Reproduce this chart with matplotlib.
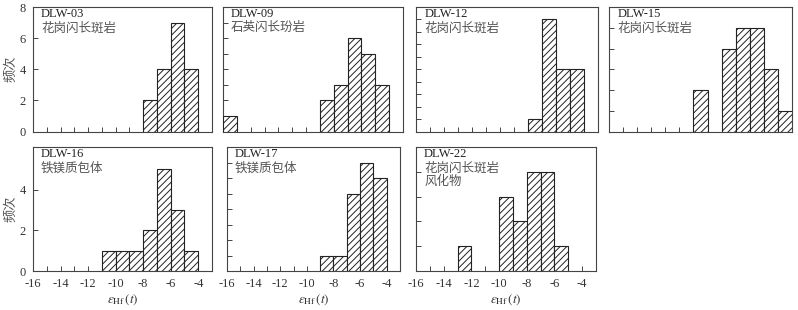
"""Zircon eHf(t) histograms for the DLW samples (7 panels)."""
import numpy as np
import matplotlib
matplotlib.use("Agg")
import matplotlib.pyplot as plt  # noqa: E402

plt.rcParams["font.family"] = ["Liberation Serif", "Noto Sans CJK SC"]
plt.rcParams["mathtext.fontset"] = "stix"
plt.rcParams["hatch.linewidth"] = 0.7

CJK = ["Noto Sans CJK SC", "DejaVu Sans"]
INK = "#333333"

# sample ids and rock names
SAMPLES = ["DLW-03", "DLW-09", "DLW-12", "DLW-15", "DLW-16", "DLW-17", "DLW-22"]
ROCKS = ["花岗闪长斑岩", "石英闪长玢岩", "花岗闪长斑岩", "花岗闪长斑岩",
         "铁镁质包体", "铁镁质包体", "花岗闪长斑岩\n风化物"]

# bin left edges (bin width 1) and counts per sample
EDGES_03 = [-8, -7, -6, -5]
COUNTS_03 = [2, 4, 7, 4]
EDGES_09 = [-16, -9, -8, -7, -6, -5]
COUNTS_09 = [1, 2, 3, 6, 5, 3]
EDGES_12 = [-8, -7, -6, -5]
COUNTS_12 = [1, 9, 5, 5]
EDGES_15 = [-10, -8, -7, -6, -5, -4]
COUNTS_15 = [2, 4, 5, 5, 3, 1]
EDGES_16 = [-11, -10, -9, -8, -7, -6, -5]
COUNTS_16 = [1, 1, 1, 2, 5, 3, 1]
EDGES_17 = [-9, -8, -7, -6, -5]
COUNTS_17 = [1, 1, 5, 7, 6]
EDGES_22 = [-13, -10, -9, -8, -7, -6]
COUNTS_22 = [1, 3, 2, 4, 4, 1]

EDGES = [EDGES_03, EDGES_09, EDGES_12, EDGES_15, EDGES_16, EDGES_17, EDGES_22]
COUNTS = [COUNTS_03, COUNTS_09, COUNTS_12, COUNTS_15, COUNTS_16, COUNTS_17, COUNTS_22]
YMAX = [8, 8, 10, 6, 6.1, 8, 5]
XTICKS = [-16, -14, -12, -10, -8, -6, -4]

W, H = 798, 310
# axes boxes in pixels: (left, right, top, bottom)
BOXES = [(33, 212, 7, 131.5), (223, 403, 7, 131.5), (416, 598, 7, 131.5),
         (609, 792, 7, 131.5),
         (33, 212, 147, 271), (227, 400, 147, 271), (416, 596, 147, 271)]

fig = plt.figure(figsize=(W / 100, H / 100), dpi=100)

for i, (l, r, t, b) in enumerate(BOXES):
    ax = fig.add_axes([l / W, 1 - b / H, (r - l) / W, (b - t) / H])
    ax.bar(EDGES[i], COUNTS[i], width=1, align="edge", facecolor="white",
           edgecolor="#222222", linewidth=0.8, hatch="/////", zorder=3)
    ax.set_xlim(-16, -3)
    ax.set_ylim(0, YMAX[i])
    for sp in ax.spines.values():
        sp.set_color("#444444")
        sp.set_linewidth(0.8)

    ax.set_xticks(np.arange(-16, -2, 1), minor=True)
    ax.set_xticks(XTICKS)
    ax.tick_params(axis="both", which="both", direction="in", length=3.5,
                   width=0.7, color="#444444", top=False, right=False,
                   labelsize=9, labelcolor=INK, pad=5)
    if i >= 4:
        ax.set_xticklabels([str(v) for v in XTICKS])
        ax.set_xlabel(r"$\varepsilon_{\rm Hf}\,(t)$", fontsize=9.5, color=INK,
                      labelpad=1.5)
    else:
        ax.set_xticklabels([])

    if i == 0:
        ax.set_yticks([0, 2, 4, 6, 8])
    elif i == 4:
        ax.set_yticks([0, 2, 4])
    else:
        ax.set_yticks(np.arange(0, int(YMAX[i]) + 1, 1))
        ax.set_yticklabels([])
    if i in (0, 4):
        ax.set_ylabel("频次", family=CJK, fontsize=9.5, color="#555555",
                      labelpad=2)

    ax.text(0.045, 0.945, SAMPLES[i], transform=ax.transAxes, fontsize=9,
            color="#222222", va="center", ha="left")
    ax.text(0.045, 0.885, ROCKS[i], transform=ax.transAxes, family=CJK,
            fontsize=9, color="#555555", va="top", ha="left",
            linespacing=1.05)

fig.savefig("out.png", dpi=100)
